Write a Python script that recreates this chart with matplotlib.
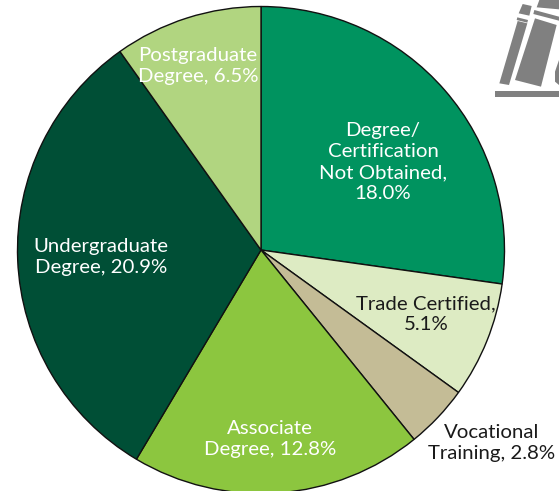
import matplotlib
matplotlib.use("Agg")
import matplotlib.pyplot as plt
from matplotlib.patches import Polygon

categories = ["Degree/\nCertification\nNot Obtained,\n18.0%", "Trade Certified,\n5.1%",
              "Vocational\nTraining, 2.8%", "Associate\nDegree, 12.8%",
              "Undergraduate\nDegree, 20.9%", "Postgraduate\nDegree, 6.5%"]
values = [18.0, 5.1, 2.8, 12.8, 20.9, 6.5]
colors = ["#00935F", "#DDEBC3", "#C4BC96", "#8CC63F", "#004F36", "#B1D580"]
label_pos = [(383, 162), (426, 314), (492, 443), (270, 439), (101, 257), (198, 66)]
label_colors = ["white", "#1a1a1a", "#1a1a1a", "white", "white", "white"]

W, H = 559, 491
fig = plt.figure(figsize=(W / 100, H / 100), dpi=100)
ax = fig.add_axes([0, 0, 1, 1])
ax.pie(values, colors=colors, startangle=270, counterclock=True, center=(261, 250), radius=243.5,
       wedgeprops=dict(edgecolor="#111111", linewidth=1.0))
ax.set_xlim(0, W)
ax.set_ylim(H, 0)
ax.set_aspect("equal")
ax.axis("off")

for lab, (x, y), c in zip(categories, label_pos, label_colors):
    ax.text(x, y, lab, ha="center", va="center", color=c, fontsize=14.7,
            family="Lato", linespacing=1.3)

# decorative book icon, top right
icon = "#808080"
def zp(pts):
    return [(440 + a / 3, b / 3) for a, b in pts]
shapes = [
    [(178, 250), (207, 255), (262, 70), (233, 63)],
    [(236, 40), (248, 12), (275, 18), (268, 47)],
    [(232, 52), (264, 60), (262, 68), (230, 60)],
    [(225, 240), (303, 260), (350, 75), (285, 55)],
    [(283, 30), (357, 50), (357, 62), (280, 42)],
    [(298, 0), (357, 0), (357, 28), (290, 22)],
    [(165, 274), (357, 274), (357, 292), (165, 292)],
    [(357, 180), (345, 215), (345, 245), (357, 255)],
]
for s in shapes:
    ax.add_patch(Polygon(zp(s), closed=True, facecolor=icon, edgecolor="none", clip_on=True))

fig.savefig("out.png", dpi=100)
